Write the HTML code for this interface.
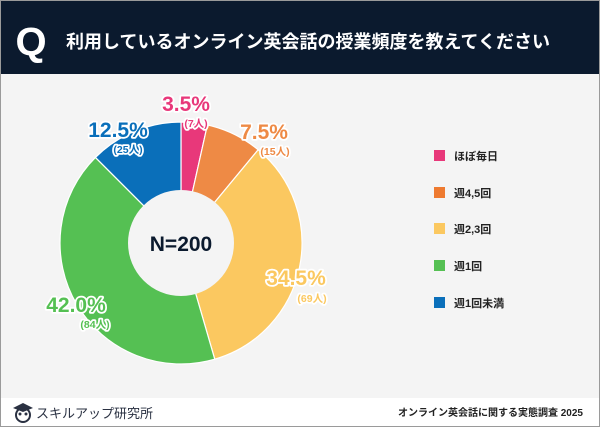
<!DOCTYPE html>
<html><head><meta charset="utf-8"><style>
html,body{margin:0;padding:0;}
body{width:600px;height:427px;overflow:hidden;font-family:"Liberation Sans","Noto Sans CJK JP",sans-serif;}
</style></head><body>
<svg width="600" height="427" viewBox="0 0 600 427" xmlns="http://www.w3.org/2000/svg" style="display:block">
<rect x="0" y="0" width="600" height="427" fill="#9a9a9a"/>
<rect x="1" y="1" width="598" height="425" fill="#ffffff"/>
<rect x="1" y="1" width="598" height="73" fill="#0b1a2e"/>
<rect x="1" y="74" width="598" height="324" fill="#f4f4f4"/>
<text x="31" y="55" text-anchor="middle" font-size="40" font-weight="bold" fill="#fff" font-family="Liberation Sans,sans-serif">Q</text>
<text x="66" y="48" font-size="18" font-weight="bold" fill="#fff" font-family="Liberation Sans,Noto Sans CJK JP,sans-serif">利用しているオンライン英会話の授業頻度を教えてください</text>
<g id="pie"></g>
<circle cx="181" cy="243" r="53" fill="#f4f4f4"/>
<text x="181" y="251" text-anchor="middle" font-size="21" font-weight="bold" fill="#0b1a2e">N=200</text>
<g font-weight="bold" stroke="#fff" stroke-width="3.5" paint-order="stroke" stroke-linejoin="round">
<text x="186" y="111" text-anchor="middle" font-size="21" fill="#e8387a">3.5%</text>
<text x="196" y="127" text-anchor="middle" font-size="10.5" fill="#e8387a">(7人)</text>
<text x="264" y="139" text-anchor="middle" font-size="21" fill="#ee8a45">7.5%</text>
<text x="275" y="155" text-anchor="middle" font-size="10.5" fill="#ee8a45">(15人)</text>
<text x="118" y="137" text-anchor="middle" font-size="21" fill="#0a6fba">12.5%</text>
<text x="128" y="153" text-anchor="middle" font-size="10.5" fill="#0a6fba">(25人)</text>
<text x="296" y="285" text-anchor="middle" font-size="21" fill="#fbc860">34.5%</text>
<text x="312" y="302" text-anchor="middle" font-size="10.5" fill="#fbc860">(69人)</text>
<text x="76" y="312" text-anchor="middle" font-size="21" fill="#55c053">42.0%</text>
<text x="95" y="328" text-anchor="middle" font-size="10.5" fill="#55c053">(84人)</text>
</g>
<g font-size="11" font-weight="bold" fill="#222">
<rect x="434" y="150" width="11" height="11" fill="#e8387a"/><text x="454" y="160">ほぼ毎日</text>
<rect x="434" y="187" width="11" height="11" fill="#ee7a30"/><text x="454" y="197">週4,5回</text>
<rect x="434" y="223" width="11" height="11" fill="#fbc860"/><text x="454" y="233">週2,3回</text>
<rect x="434" y="260" width="11" height="11" fill="#55c053"/><text x="454" y="270">週1回</text>
<rect x="434" y="297" width="11" height="11" fill="#0a6fba"/><text x="454" y="307">週1回未満</text>
</g>
<g fill="#2a3142">
<path d="M13 408 L23 403 L33 408 L23 412Z"/>
<circle cx="23" cy="415" r="7" fill="none" stroke="#2a3142" stroke-width="2"/>
<circle cx="20" cy="414" r="1.5"/><circle cx="26" cy="414" r="1.5"/>
</g>
<text x="36" y="418" font-size="13" fill="#2a3142">スキルアップ研究所</text>
<text x="583" y="416" text-anchor="end" font-size="10" font-weight="bold" fill="#222">オンライン英会話に関する実態調査 2025</text>
<script>
(function(){
var d=[[3.5,"#e8387a"],[7.5,"#ee8a45"],[34.5,"#fbc860"],[42,"#55c053"],[12.5,"#0a6fba"]];
var cx=181,cy=243,R=121,a=0,g=document.getElementById("pie"),ns="http://www.w3.org/2000/svg";
d.forEach(function(s){
var a1=a,a2=a+s[0]/100*2*Math.PI;a=a2;
var x1=cx+R*Math.sin(a1),y1=cy-R*Math.cos(a1),x2=cx+R*Math.sin(a2),y2=cy-R*Math.cos(a2);
var p=document.createElementNS(ns,"path");
p.setAttribute("d","M"+cx+" "+cy+" L"+x1+" "+y1+" A"+R+" "+R+" 0 "+((a2-a1)>Math.PI?1:0)+" 1 "+x2+" "+y2+"Z");
p.setAttribute("fill",s[1]);p.setAttribute("stroke","#fff");p.setAttribute("stroke-width","1.2");
g.appendChild(p);});
})();
</script>
</svg>
</body></html>
